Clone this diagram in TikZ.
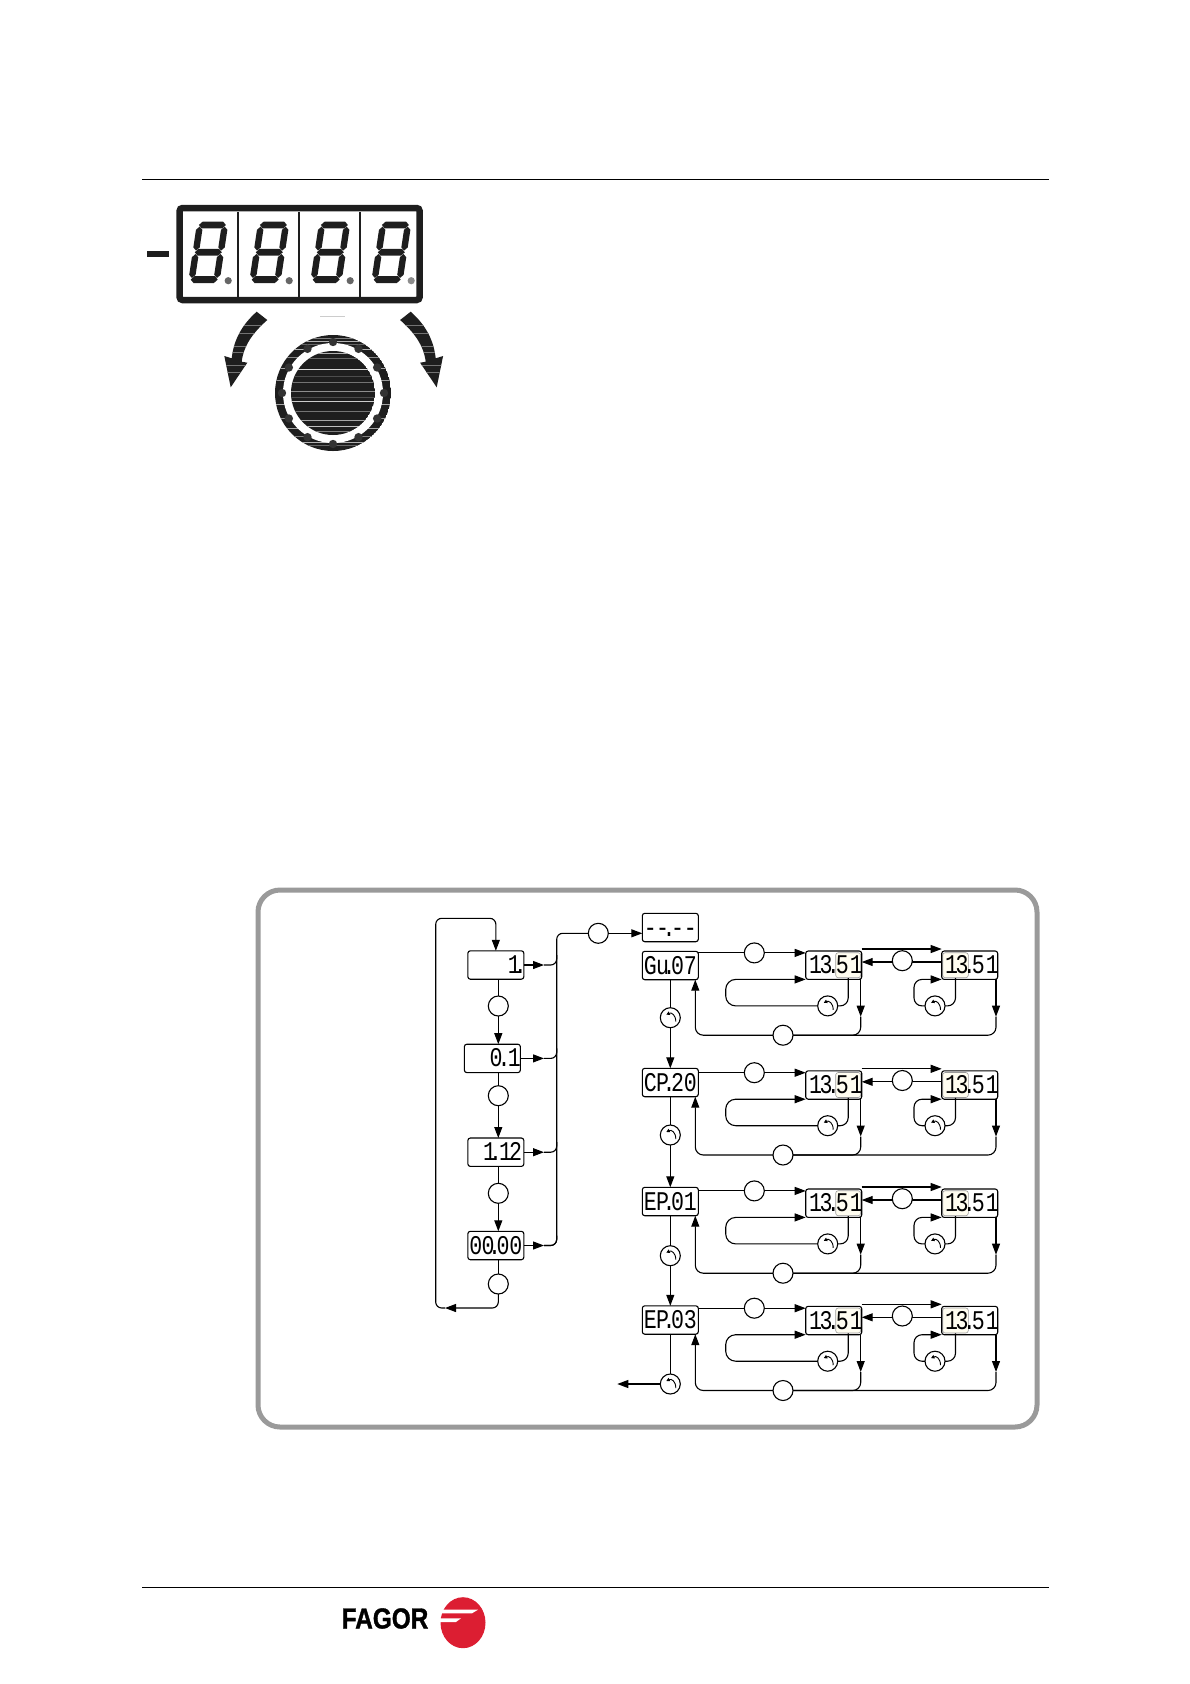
\documentclass[tikz,border=0pt]{standalone}
\usepackage{fontspec}
\usetikzlibrary{arrows.meta,backgrounds,shapes.geometric}
\newfontfamily\segfont[FakeStretch=.8]{Liberation Mono}
\newfontfamily\logofont[FakeStretch=.84,BoldFeatures={FakeBold=1.2}]{Liberation Sans}
\definecolor{inkdark}{HTML}{1E1E1E}
\definecolor{panelgray}{HTML}{9A9A9A}
\definecolor{cream}{HTML}{FFFDF0}
\definecolor{fagorred}{HTML}{DC1E32}
\newcommand{\seg}[4]{#1\kern-.66pt #2\kern-6.5pt .\kern-4.4pt #3\kern-.3pt #4}
\newcommand{\readout}{\kern2.5pt 1\kern-2.66pt 3\kern-5.5pt .\kern-4.1pt 5\kern1pt 1}
\begin{document}
\begin{tikzpicture}
    [x=1pt,y=-1pt,line width=1.1pt,
     >={Triangle[length=11pt,width=8pt]},
     link/.style={line width=1.1pt},
     dispbox/.style={draw,rectangle,rounded corners=2.5pt,minimum width=56pt,
       minimum height=28.4pt,inner sep=0pt,outer sep=0pt,text width=54pt,align=center,
       text height=17pt,text depth=0pt,font=\fontsize{27}{27}\segfont},
     menubox/.style={dispbox,align=right},
     hilite/.style={draw=black!40,fill=cream,rectangle,rounded corners=2.5pt,inner sep=0pt,
       minimum height=25pt,line width=.6pt},
     btn/.style={draw,circle,fill=white,minimum size=20pt,inner sep=0pt,outer sep=0pt},
     rotbtn/.style={btn,path picture={
       \draw[line width=.9pt,-{Triangle[length=3.5pt,width=3.5pt]}]
         ([shift={(5.5,4)}]path picture bounding box.center)
         .. controls ([shift={(5.5,-3)}]path picture bounding box.center)
         and ([shift={(1,-5.5)}]path picture bounding box.center)
         .. ([shift={(-4,-3)}]path picture bounding box.center);}},
     panel/.style={draw=panelgray,line width=5pt,rectangle,rounded corners=22pt,
       minimum width=779pt,minimum height=537pt,inner sep=0pt}]
    \useasboundingbox (0,0) rectangle (1190,1684);

    % rules
    \coordinate (rule tl) at (142,179.5);
    \coordinate (rule tr) at (1049,179.5);
    \coordinate (rule bl) at (142,1587.5);
    \coordinate (rule br) at (1049,1587.5);
    \draw (rule tl) -- (rule tr);
    \draw[line width=1.5pt] (rule bl) -- (rule br);

    % display
    \fill[inkdark] (147,251) rectangle (169,257);
    \node at (299.6,254) (display) [draw=inkdark,line width=6.5pt,rectangle,rounded corners=3pt,
      minimum width=240pt,minimum height=92pt,inner sep=0pt] {};
    \foreach \x in {238,299,360} {
      \draw[inkdark] (\x,212) -- (\x,297);
    }
    \foreach \d in {0,...,3} {
      \begin{scope}[shift={(208.3+61*\d,252.3)},xslant=.15]
        \foreach \y in {-27.3,0,27.3} {
          \fill[inkdark] (-13.5,\y) -- (-10.2,\y-3.4) -- (10.2,\y-3.4) -- (13.5,\y)
            -- (10.2,\y+3.4) -- (-10.2,\y+3.4) -- cycle;
        }
        \foreach \x in {-12.5,12.5} {
          \foreach \y in {-13.7,13.7} {
            \fill[inkdark] (\x,\y-12) -- (\x+3.2,\y-8.8) -- (\x+3.2,\y+8.8) -- (\x,\y+12)
              -- (\x-3.2,\y+8.8) -- (\x-3.2,\y-8.8) -- cycle;
          }
        }
      \end{scope}
    }
    \foreach \x/\g in {230.7/60,291.7/60,352.7/60,413.7/45} {
      \fill[black!\g] (\x-2.5,280.7) circle [radius=3.6];
    }
    \draw[black!20] (320,316.5) -- (345,316.5);

    % turning arrows
    \foreach \s in {1,-1} {
      \begin{scope}[shift={(333.7,0)},xscale=\s]
        \clip (-77,311.7) .. controls (-92,325) and (-100,340) .. (-102,358.3)
          -- (-109.4,356) -- (-103,387.3) -- (-86.4,362.7) -- (-92,361.7)
          .. controls (-90,345) and (-80,332) .. (-66.4,320) -- cycle;
        \fill[inkdark] (-115,305) rectangle (-60,390);
        \foreach \y in {325,333,346,352,365,372} {
          \draw[black!55,line width=.6pt] (-115,\y) -- (-60,\y);
        }
      \end{scope}
    }

    % knob
    \begin{scope}
      \clip (333,393) circle [radius=58];
      \fill[inkdark] (333,393) circle [radius=58];
      \foreach \y/\g in {338/50,341/30,344/60,349/30,357/45,368/35,380/40,404/35,418/40,428/35,436/50,442/30,445/60} {
        \draw[black!\g,line width=1pt] (270,\y) -- (396,\y);
      }
    \end{scope}
    \fill[white] (333,393) circle [radius=50];
    \foreach \a in {0,30,...,330} {
      \fill[black!80] ({333+51*cos(\a)},{393+51*sin(\a)}) circle [radius=4.2];
    }
    \begin{scope}
      \clip (333,393) circle [radius=42];
      \fill[inkdark] (333,393) circle [radius=42];
      \foreach \y/\g in {353/30,358/60,369/15,376/70,382/55,391/45,397/70,401/20,411/55,420/35,426/25,431/50} {
        \draw[black!\g,line width=.7pt] (285,\y) -- (380,\y);
      }
    \end{scope}

    % panel
    \node at (647.5,1158.5) (frame) [panel] {};

    % menu
    \node at (495.85,965) (m1) [menubox] {1\kern-7pt .\kern-4pt};
    \node at (492.35,1058.4) (m2) [menubox] {0\kern-5pt .\kern-2.7pt 1\kern-1.5pt};
    \node at (495.85,1152.2) (m3) [menubox] {1\kern-7pt .\kern-3pt 1\kern-3pt 2\kern.8pt};
    \node at (495.85,1245.5) (m4) [menubox,align=center] {\seg 0000};
    \node at (498.3,1006) (k1) [btn] {};
    \node at (498.3,1095.7) (k2) [btn] {};
    \node at (498.3,1193.3) (k3) [btn] {};
    \node at (498.3,1284) (k4) [btn] {};
    \foreach \i/\j in {1/2,2/3,3/4} {
      \draw (m\i.south -| k\i) -- (k\i);
      \draw[->] (k\i) -- (k\i |- m\j.north);
    }
    \draw (m4.south -| k4) -- (k4);
    \coordinate (back tip) at (445,1308);
    \coordinate (back low) at (435.7,1308);
    \coordinate (back high) at (435.7,918.3);
    \draw[->,rounded corners=6pt] (k4) |- (back tip);
    \draw[->,rounded corners=6pt] (back tip) -- (back low) -- (back high) -| (m1.north);

    % bus to the parameter column
    \node at (670.3,927.5) (dash) [dispbox] {\seg ----};
    \node at (598.3,933.3) (k5) [btn] {};
    \coordinate (bus top) at (556.7,933.3);
    \coordinate (bus low) at (556.7,1245.5);
    \coordinate (bus tip) at (544,0);
    \draw[->] (k5) -- (k5 -| dash.west);
    \foreach \i in {1,...,4} {
      \draw[->] (m\i.east) -- (m\i -| bus tip) coordinate (t\i);
      \draw[rounded corners=6pt] (t\i) -- (t\i -| bus top) -- ++(0,-10);
    }
    \draw[rounded corners=6pt] (k5) -- (bus top) -- (bus low) -- (t4);

    % parameter rows
    \foreach \r/\ya/\yb/\yk/\lab in {1/965.5/965.2/1017.7/\seg Gu07,2/1082.5/1085/1135/\seg CP20,
                                     3/1201.5/1203.2/1255.7/\seg EP01,4/1320/1320.5/1384/\seg EP03} {
      \node at (670.3,\ya) (a\r) [dispbox] {\lab};
      \node at (848.2,\yb) (hb\r) [hilite,minimum width=25pt] {};
      \node at (955.5,\yb) (hc\r) [hilite,minimum width=25.6pt] {};
      \node at (833.7,\yb) (b\r) [dispbox,align=left] {\readout};
      \node at (969.7,\yb) (c\r) [dispbox,align=left] {\readout};
      \node at (754.3,\yb-12.3) (s\r) [btn] {};
      \node at (902.3,\yb-4.5) (f\r) [btn] {};
      \node at (827.7,\yb+40.7) (u\r) [rotbtn] {};
      \node at (935,\yb+40.7) (v\r) [rotbtn] {};
      \node at (783,\yb+70) (w\r) [btn] {};
      \node at (670.3,\yk) (r\r) [rotbtn] {};
      \coordinate (bd\r) at (860.7,\yb+51.5);
      \coordinate (cd\r) at (996,\yb+51.5);

      \draw (a\r.east |- s\r) -- (s\r);
      \draw[->] (s\r) -- (s\r -| b\r.west);
      \draw (a\r.south -| r\r) -- (r\r);
      \begin{scope}[on background layer]
        \draw[link,->] ([yshift=2pt]b\r.north east) -- ([yshift=2pt]c\r.north west);
        \draw[link,->] ([yshift=3.2pt]c\r.west) -- ([yshift=3.2pt]b\r.east);
        \draw[link,rounded corners=8pt] (bd\r) |- (w\r);
        \draw[link,rounded corners=8pt] (cd\r) |- (w\r);
      \end{scope}
      \draw[->] (b\r.south -| bd\r) -- (bd\r);
      \draw[->] (c\r.south -| cd\r) -- (cd\r);
      \draw[->,rounded corners=8pt] (w\r) -| ([xshift=-3pt]a\r.south east);
      \draw[rounded corners=8pt] (hb\r.south) |- (u\r);
      \draw[->,rounded corners=10pt] (u\r) -- ++(-102,0) |- (b\r.south west);
      \draw[rounded corners=8pt] (hc\r.south) |- (v\r);
      \draw[->,rounded corners=8pt] (v\r) -- ++(-21,0) |- (c\r.south west);
    }
    \foreach \r/\n in {1/2,2/3,3/4} {
      \draw[->] (r\r) -- (r\r |- a\n.north);
    }
    \coordinate (leave) at (617.3,1384);
    \draw[->] (r4) -- (leave);

    % logo
    \node at (385,1618.5) (fagor) [font=\fontsize{29}{29}\logofont\bfseries,inner sep=0pt] {FAGOR};
    \node at (463,1622.7) (disc) [ellipse,fill=fagorred,minimum width=45pt,minimum height=51pt,inner sep=0pt] {};
    \fill[white] (438,1609.7) -- (478,1609.7) -- (472,1613.3) -- (438,1613.3) -- cycle;
    \fill[white] (438,1618.3) -- (461,1618.3) -- (456,1622) -- (438,1622) -- cycle;
\end{tikzpicture}
\end{document}
